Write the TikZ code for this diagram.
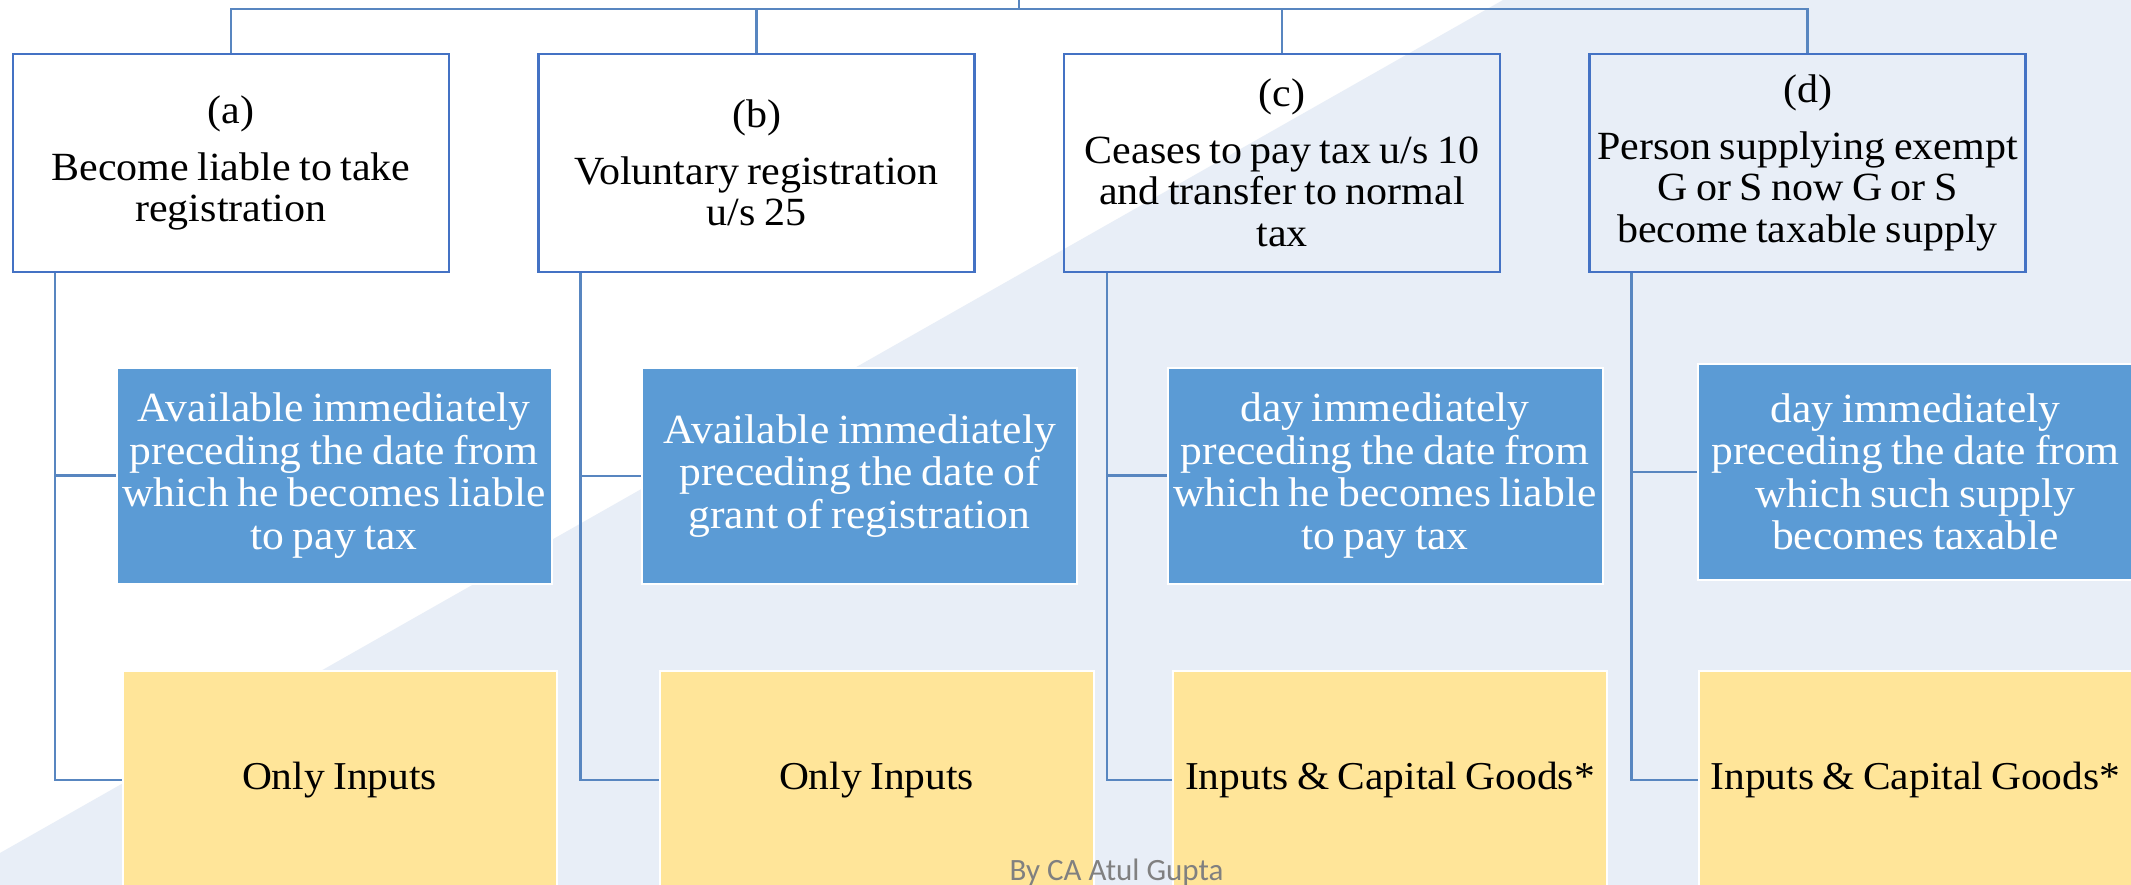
\documentclass[tikz,border=0pt]{standalone}
\usepackage{fontspec}
\setmainfont[FakeStretch=1.05,WordSpace=0.8]{Liberation Serif}
\newfontfamily\credfont{Carlito}
\definecolor{bgblue}{RGB}{232,238,247}
\definecolor{boxblue}{RGB}{68,114,196}
\definecolor{linkblue}{RGB}{88,134,192}
\definecolor{midfill}{RGB}{91,155,213}
\definecolor{yfill}{RGB}{255,229,153}
\definecolor{credgray}{RGB}{128,128,128}
\begin{document}
\begin{tikzpicture}[x=1pt,y=-1pt,
  topbox/.style={draw=boxblue,line width=2.5pt,minimum width=436pt,minimum height=218pt,inner sep=0pt,align=center,font=\fontsize{40}{41.5}\selectfont},
  midbox/.style={draw=white,line width=2pt,fill=midfill,minimum width=435pt,minimum height=216pt,inner sep=0pt,align=center,text=white,font=\fontsize{41.5}{42.5}\selectfont},
  ybox/.style={draw=white,line width=2pt,fill=yfill,minimum width=434pt,minimum height=218pt,inner sep=0pt,align=center,font=\fontsize{39.5}{42}\selectfont},
  link/.style={draw=linkblue,line width=2.5pt}]
\useasboundingbox (0,0) rectangle (2131,885);
\clip (0,0) rectangle (2131,885);
\fill[white] (0,0) rectangle (2131,885);
\fill[bgblue] (1503,0) -- (2131,0) -- (2131,885) -- (0,885) -- (0,853) -- cycle;

% top boxes
\node[topbox] (a) at (231,163) {(a)\\[15pt]Become liable to take\\registration};
\node[topbox] (b) at (756.5,163) {(b)\\[15pt]Voluntary registration\\u/s 25};
\node[topbox] (c) at (1282,163) {(c)\\[15pt]Ceases to pay tax u/s 10\\and transfer to normal\\tax};
\node[topbox] (d) at (1807.5,163) {(d)\\[15pt]Person supplying exempt\\G or S now G or S\\become taxable supply};

% middle boxes
\node[midbox] (m1) at (334,475.5) {Available immediately\\preceding the date from\\which he becomes liable\\to pay tax};
\node[midbox] (m2) at (859.5,476) {Available immediately\\preceding the date of\\grant of registration};
\node[midbox] (m3) at (1385,475.5) {day immediately\\preceding the date from\\which he becomes liable\\to pay tax};
\node[midbox] (m4) at (1915.5,472) {day immediately\\preceding the date from\\which such supply\\becomes taxable};

% bottom boxes
\node[ybox] (y1) at (339.5,780) {Only Inputs};
\node[ybox] (y2) at (876.5,780) {Only Inputs};
\node[ybox] (y3) at (1390,780) {Inputs \& Capital Goods*};
\node[ybox] (y4) at (1915.5,780) {Inputs \& Capital Goods*};

% top connectors
\coordinate (root) at (1019,0);
\coordinate (bus) at (1019,9);
\draw[link] (root) -- (bus);
\draw[link] (bus) -| (a.north);
\draw[link] (bus) -| (b.north);
\draw[link] (bus) -| (c.north);
\draw[link] (bus) -| (d.north);

% side connectors
\draw[link] ([xshift=43pt]a.south west) |- (m1.west);
\draw[link] ([xshift=43pt]a.south west) |- (y1.west);
\draw[link] ([xshift=43pt]b.south west) |- (m2.west);
\draw[link] ([xshift=43pt]b.south west) |- (y2.west);
\draw[link] ([xshift=44pt]c.south west) |- (m3.west);
\draw[link] ([xshift=44pt]c.south west) |- (y3.west);
\draw[link] ([xshift=43pt]d.south west) |- (m4.west);
\draw[link] ([xshift=43pt]d.south west) |- (y4.west);

\node[font=\credfont\fontsize{31}{31}\selectfont,text=credgray,anchor=base,inner sep=0pt] (credit) at (1116.5,880) {By CA Atul Gupta};
\end{tikzpicture}
\end{document}
